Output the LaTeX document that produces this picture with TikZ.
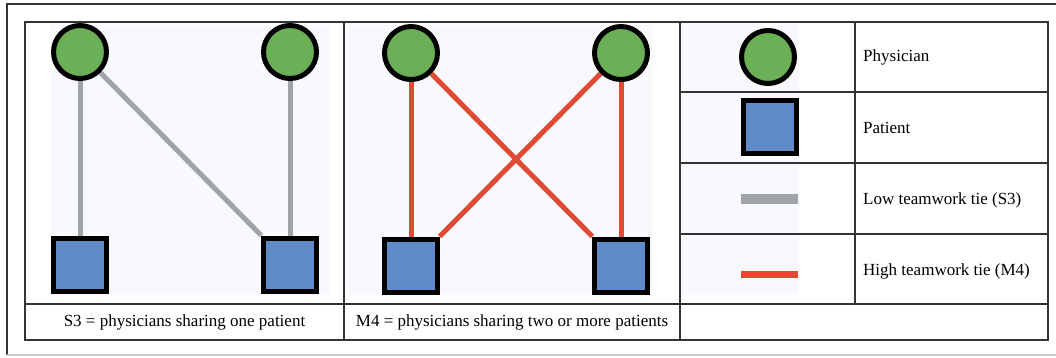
\documentclass[tikz,border=0pt]{standalone}
\usepackage{fontspec}
\setmainfont{Liberation Serif}
\usetikzlibrary{backgrounds}
\definecolor{physgreen}{HTML}{6BAF56}
\definecolor{patblue}{HTML}{5F8BC8}
\definecolor{tiegray}{HTML}{A0A4A6}
\definecolor{tiered}{HTML}{E04A35}
\definecolor{panelbg}{HTML}{F8F9FC}

\begin{document}
\begin{tikzpicture}[x=1pt,y=-1pt,
  phys/.style={circle,draw=black,line width=5pt,fill=physgreen,minimum size=53pt,inner sep=0pt},
  pat/.style={rectangle,draw=black,line width=5pt,fill=patblue,minimum size=53pt,inner sep=0pt},
  low/.style={draw=tiegray,line width=5pt},
  high/.style={draw=tiered,line width=5pt},
  rule/.style={draw=black!80,line width=1.5pt},
  txt/.style={font=\fontsize{17}{19}\selectfont,inner sep=0pt}]
\useasboundingbox (0,0) rectangle (1056,357);
% outer frame
\draw[black!80,line width=1.5pt] (1056,4) -- (7,4) -- (7,355);
\draw[black!20,line width=1.5pt] (7,355) -- (1056,355);
% S3 panel
\node[phys] (p1) at (80,52) {};
\node[phys] (p2) at (290,52) {};
\node[pat] (q1) at (80,264.5) {};
\node[pat] (q2) at (290,264.5) {};
% M4 panel
\node[phys] (p3) at (411,53) {};
\node[phys] (p4) at (621,53) {};
\node[pat] (q3) at (411,265.5) {};
\node[pat] (q4) at (621,265.5) {};
% legend
\node[phys] (lphys) at (768,57) {};
\node[pat] (lpat) at (769.5,127) {};
\coordinate (lowa) at (741,199);
\coordinate (lowb) at (798,199);
\coordinate (higha) at (741,274);
\coordinate (highb) at (798,274);
\node[txt,anchor=west] (tphys) at (863,57) {Physician};
\node[txt,anchor=west] (tpat) at (863,128) {Patient};
\node[txt,anchor=west] (tlow) at (863,200) {Low teamwork tie (S3)};
\node[txt,anchor=west] (thigh) at (863,271) {High teamwork tie (M4)};
% captions
\node[txt] (cs3) at (184.5,322) {S3 = physicians sharing one patient};
\node[txt] (cm4) at (512,322) {M4 = physicians sharing two or more patients};
\begin{scope}[on background layer]
\fill[panelbg] (51,25) rectangle (330,295);
\fill[panelbg] (347,25) rectangle (652,295);
\fill[panelbg] (682,24) rectangle (799,295);
\draw[low] (p1) -- (q1);
\draw[low] (p1) -- (q2);
\draw[low] (p2) -- (q2);
\draw[high] (p3) -- (q3);
\draw[high] (p3) -- (q4);
\draw[high] (p4) -- (q3);
\draw[high] (p4) -- (q4);
\draw[tiegray,line width=10pt] (lowa) -- (lowb);
\draw[tiered,line width=7pt] (higha) -- (highb);
\end{scope}
% table rules
\draw[rule] (25,22) rectangle (1048,340);
\draw[rule] (25,304) -- (1048,304);
\draw[rule] (344,22) -- (344,340);
\draw[rule] (680,22) -- (680,340);
\draw[rule] (855,22) -- (855,304);
\foreach \y in {92,163,234} \draw[rule] (680,\y) -- (1048,\y);
\end{tikzpicture}
\end{document}
